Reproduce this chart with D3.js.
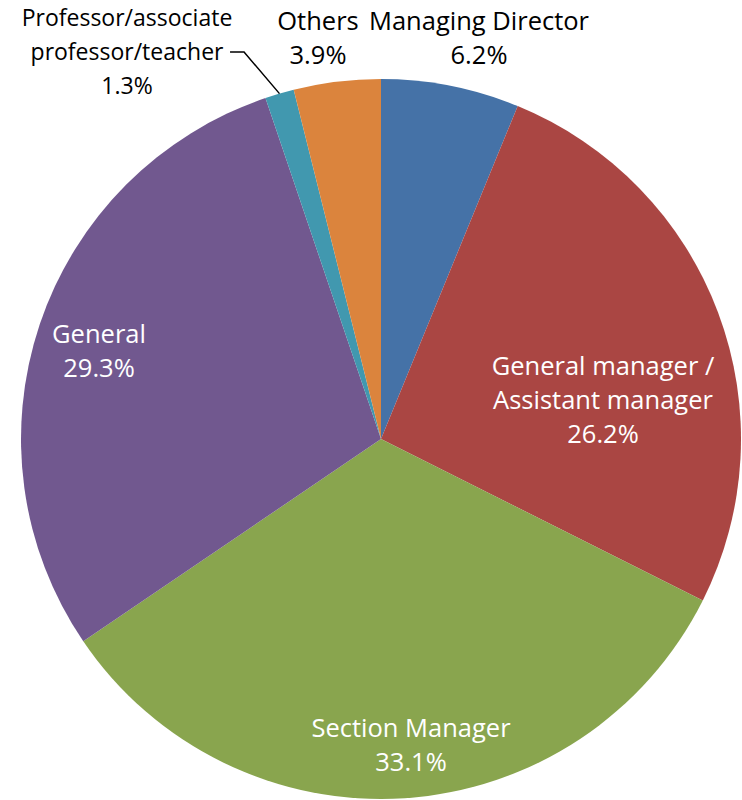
<!DOCTYPE html>
<html>
<head>
<meta charset="utf-8">
<script src="https://cdn.jsdelivr.net/npm/d3@7"></script>
<style>
  body { margin: 0; background: #fff; }
  svg text { font-family: "Open Sans", "Noto Sans", sans-serif; }
</style>
</head>
<body>
<svg id="pie"></svg>
<script>
var width = 742, height = 800;

// data
const categories = [
  "Managing Director",
  "General manager / Assistant manager",
  "Section Manager",
  "General",
  "Professor/associate professor/teacher",
  "Others",
];
const shares = [6.2, 26.2, 33.1, 29.3, 1.3, 3.9];
const colors = ["#4572A7", "#AA4643", "#89A54E", "#71588F", "#4198AF", "#DB843D"];

// label lines (how Excel wrapped them)
const labelLines = [
  ["Managing Director"],
  ["General manager /", "Assistant manager"],
  ["Section Manager"],
  ["General"],
  ["Professor/associate", "professor/teacher"],
  ["Others"],
];

const svg = d3.select("#pie").attr("width", width).attr("height", height);

const cx = 381, cy = 439, radius = 360;
const g = svg.append("g").attr("transform", `translate(${cx}, ${cy})`);

const pie = d3.pie().sort(null).value((d) => d.value);
const arc = d3.arc().innerRadius(0).outerRadius(radius);

const rows = categories.map((c, i) => ({ name: c, value: shares[i], color: colors[i], lines: labelLines[i] }));
const arcs = pie(rows);

g.selectAll("path")
  .data(arcs)
  .join("path")
  .attr("d", arc)
  .attr("fill", (d) => d.data.color);

// label anchor (center of first line baseline) relative to pie center
const labelPos = [
  { x: 98, y: -409, color: "#000", size: 25.5 },
  { x: 222, y: -64, color: "#fff", size: 25.5 },
  { x: 30, y: 298, color: "#fff", size: 25.5 },
  { x: -282, y: -96, color: "#fff", size: 25.5 },
  { x: -254, y: -413, color: "#000", size: 23 },
  { x: -63, y: -409, color: "#000", size: 25.5 },
];
const lineH = 34;

const labels = g.selectAll("text.lbl")
  .data(arcs)
  .join("text")
  .attr("class", "lbl")
  .attr("text-anchor", "middle")
  .attr("font-size", (d, i) => labelPos[i].size + "px")
  .attr("fill", (d, i) => labelPos[i].color);

labels.each(function (d, i) {
  const t = d3.select(this);
  const lines = d.data.lines.concat([d.data.value.toFixed(1) + "%"]);
  lines.forEach((ln, k) => {
    t.append("tspan")
      .attr("x", labelPos[i].x)
      .attr("y", labelPos[i].y + k * lineH)
      .text(ln);
  });
});

// leader line for the small professor slice
const profArc = arcs[4];
const edge = d3.arc().innerRadius(radius).outerRadius(radius).centroid(profArc);
const profText = labels.filter((d, i) => i === 4).selectAll("tspan").nodes()[1];
const bb = profText.getBBox();
const lineY = labelPos[4].y + lineH - 8;
g.append("polyline")
  .attr("points", [
    [bb.x + bb.width + 6, lineY],
    [bb.x + bb.width + 20, lineY],
    edge,
  ].map((p) => p.join(",")).join(" "))
  .attr("fill", "none")
  .attr("stroke", "#000")
  .attr("stroke-width", 1.5);
</script>
</body>
</html>
